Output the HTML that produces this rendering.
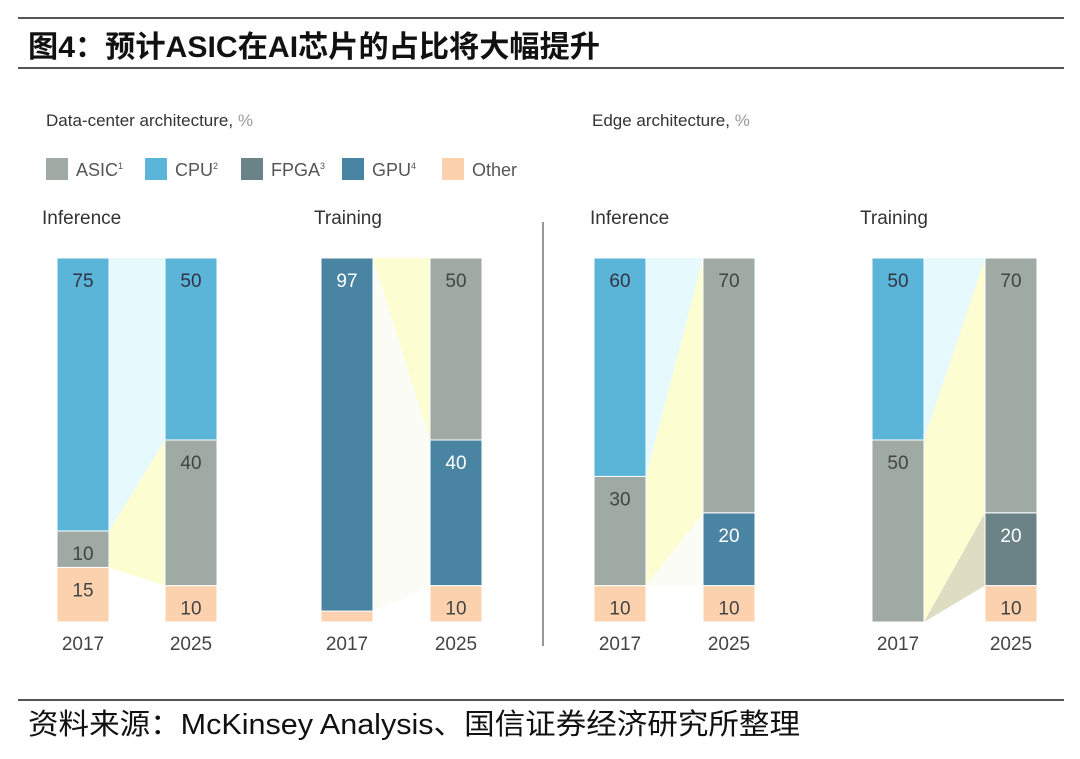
<!DOCTYPE html>
<html><head><meta charset="utf-8"><style>
body{margin:0;width:1080px;height:754px;background:#fff;overflow:hidden;font-family:"Liberation Sans","Noto Sans CJK SC",sans-serif}
svg text{font-family:"Liberation Sans","Noto Sans CJK SC",sans-serif}
</style></head><body>
<svg id="chart" width="1080" height="754" xmlns="http://www.w3.org/2000/svg">
<line x1="18" y1="18" x2="1064" y2="18" stroke="#555" stroke-width="2"/>
<text x="28" y="57" font-size="30" font-weight="bold" fill="#111" textLength="572" lengthAdjust="spacingAndGlyphs">图4：预计ASIC在AI芯片的占比将大幅提升</text>
<line x1="18" y1="68" x2="1064" y2="68" stroke="#555" stroke-width="2"/>
<text x="46" y="126" font-size="17" fill="#333">Data-center architecture, <tspan fill="#999">%</tspan></text>
<text x="592" y="126" font-size="17" fill="#333">Edge architecture, <tspan fill="#999">%</tspan></text>
<g id="legend"></g>
<line x1="543" y1="222" x2="543" y2="646" stroke="#777" stroke-width="1.5"/>
<g id="panels"></g>
<line x1="18" y1="700" x2="1064" y2="700" stroke="#555" stroke-width="2"/>
<text x="28" y="734" font-size="29" fill="#111" textLength="772" lengthAdjust="spacingAndGlyphs">资料来源：McKinsey Analysis、国信证券经济研究所整理</text>
</svg>
<script>
const categories = ["Other","FPGA","GPU","ASIC","CPU"];
const panelTitles = ["Inference","Training","Inference","Training"];
const years = ["2017","2025"];
const dcInf2017 = [15,0,0,10,75];
const dcInf2025 = [10,0,0,40,50];
const dcTrain2017 = [3,0,97,0,0];
const dcTrain2025 = [10,0,40,50,0];
const edgeInf2017 = [10,0,0,30,60];
const edgeInf2025 = [10,0,20,70,0];
const edgeTrain2017 = [0,0,0,50,50];
const edgeTrain2025 = [10,20,0,70,0];
const panelData = [[dcInf2017,dcInf2025],[dcTrain2017,dcTrain2025],[edgeInf2017,edgeInf2025],[edgeTrain2017,edgeTrain2025]];
const colors = {Other:"#fcd2ae",FPGA:"#6b8387",GPU:"#4a84a3",ASIC:"#9eaaa3",CPU:"#5ab5d9"};
const linkColors = {Other:"#ffffff",FPGA:"#dedcc2",GPU:"#fcfcf6",ASIC:"#fdfdd2",CPU:"#e6fafd"};
const textColors = {Other:"#444",FPGA:"#fff",GPU:"#fff",ASIC:"#444",CPU:"#334"};
const legendLabels = [["ASIC","1"],["CPU","2"],["FPGA","3"],["GPU","4"],["Other",""]];
const NS="http://www.w3.org/2000/svg";
const y0=622, H=364, barW=52;
const y=v=>y0 - v/100*H;
const panelX=[[57,165],[321,430],[594,703],[872,985]];
const titleX=[42,314,590,860];
function mk(tag,attrs,parent){const e=document.createElementNS(NS,tag);for(const k in attrs)e.setAttribute(k,attrs[k]);parent.appendChild(e);return e;}
const lg=document.getElementById('legend');
const legendX=[46,145,241,342,442];
legendLabels.forEach(([n,s],i)=>{
  const lx=legendX[i];
  const g=mk('g',{},lg);
  
  
  mk('rect',{x:lx,y:158,width:22,height:22,fill:colors[n]},g);
  const t=mk('text',{x:lx+30,y:176,'font-size':18,fill:'#555'},g);
  t.textContent=n;
  if(s){const sp=mk('tspan',{'font-size':9,dy:-7},t);sp.textContent=s;}
});
const panels=document.getElementById('panels');
panelData.forEach((pd,pi)=>{
  const g=mk('g',{},panels);
  
  
  const tt=mk('text',{x:titleX[pi],y:224,'font-size':19,fill:'#333'},g);
  
  
  tt.textContent=panelTitles[pi];
  const cum=pd.map(arr=>{let c=0;return arr.map(v=>{const r=[c,c+v];c+=v;return r;});});
  categories.forEach((cat,ci)=>{
    const a=cum[0][ci], b=cum[1][ci];
    if(pd[0][ci]===0&&pd[1][ci]===0)return;
    const x1=panelX[pi][0]+barW, x2=panelX[pi][1];
    const p=mk('polygon',{points:`${x1},${y(a[0])} ${x1},${y(a[1])} ${x2},${y(b[1])} ${x2},${y(b[0])}`,fill:linkColors[cat]},g);
    
    
  });
  pd.forEach((arr,yi)=>{
    const bx=panelX[pi][yi];
    categories.forEach((cat,ci)=>{
      const v=arr[ci]; if(!v)return;
      const [lo,hi]=cum[yi][ci];
      const r=mk('rect',{x:bx,y:y(hi),width:barW,height:y(lo)-y(hi),fill:colors[cat],stroke:'#fff','stroke-width':1},g);
      
      
      if(v>=8){
        const t=mk('text',{x:bx+barW/2,y:y(hi)+29,'font-size':19,fill:textColors[cat],'text-anchor':'middle'},g);
        
        
        t.textContent=v;
      }
    });
    const yl=mk('text',{x:bx+barW/2,y:650,'font-size':19,fill:'#444','text-anchor':'middle'},g);
    
    
    yl.textContent=years[yi];
  });
});
</script>
</body></html>
